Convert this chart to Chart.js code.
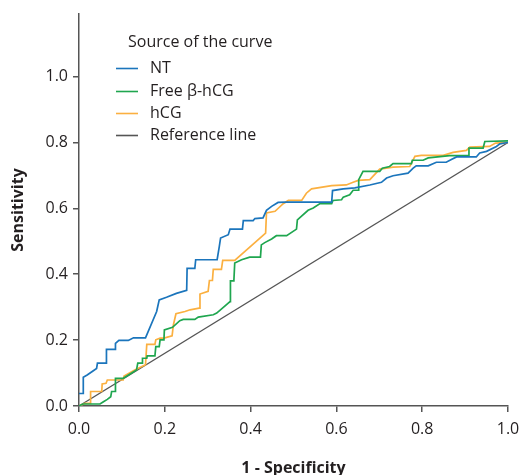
<!DOCTYPE html>
<html>
<head>
<meta charset="utf-8">
<script src="https://cdn.jsdelivr.net/npm/chart.js@4/dist/chart.umd.min.js"></script>
<style>
  html, body { margin: 0; padding: 0; background: #fff; }
  #wrap { width: 521px; height: 475px; }
</style>
</head>
<body>
<div id="wrap"><canvas id="c" width="521" height="475"></canvas></div>
<script>
// ---- Data (1 - Specificity, Sensitivity) ----
const seriesLabels = ['NT', 'Free β-hCG', 'hCG', 'Reference line'];
const legendTitle = 'Source of the curve';
const xTickValues = [0, 0.2, 0.4, 0.6, 0.8, 1.0];
const yTickValues = [0, 0.2, 0.4, 0.6, 0.8, 1.0];

const ntPoints = [
  [0,0.038],[0.010,0.038],[0.010,0.087],[0.019,0.094],[0.030,0.104],[0.041,0.114],[0.043,0.130],
  [0.063,0.130],[0.064,0.172],[0.084,0.172],[0.085,0.190],[0.093,0.199],[0.115,0.199],[0.127,0.207],
  [0.155,0.207],[0.181,0.287],[0.187,0.322],[0.204,0.330],[0.227,0.342],[0.251,0.351],[0.252,0.418],
  [0.270,0.418],[0.272,0.444],[0.322,0.444],[0.327,0.484],[0.330,0.510],[0.348,0.520],[0.352,0.537],
  [0.381,0.537],[0.383,0.563],[0.406,0.563],[0.410,0.569],[0.429,0.571],[0.437,0.594],[0.449,0.606],
  [0.464,0.618],[0.484,0.619],[0.589,0.619],[0.591,0.654],[0.616,0.659],[0.643,0.662],[0.678,0.671],
  [0.705,0.679],[0.717,0.692],[0.732,0.699],[0.767,0.707],[0.779,0.722],[0.786,0.729],[0.814,0.729],
  [0.833,0.740],[0.856,0.740],[0.868,0.748],[0.880,0.756],[0.926,0.756],[0.934,0.768],[0.950,0.773],
  [0.973,0.788],[0.981,0.796],[1.0,0.800]
];
const freeHcgPoints = [
  [0,0],[0.009,0.006],[0.049,0.006],[0.057,0.013],[0.066,0.020],[0.074,0.028],[0.076,0.044],[0.084,0.044],
  [0.085,0.084],[0.103,0.084],[0.119,0.097],[0.134,0.109],[0.137,0.130],[0.148,0.130],[0.148,0.145],
  [0.158,0.145],[0.159,0.152],[0.177,0.152],[0.179,0.180],[0.187,0.180],[0.189,0.201],[0.198,0.201],
  [0.199,0.231],[0.218,0.239],[0.235,0.259],[0.243,0.263],[0.270,0.263],[0.278,0.270],[0.313,0.277],
  [0.321,0.282],[0.352,0.317],[0.353,0.380],[0.361,0.380],[0.363,0.434],[0.379,0.444],[0.398,0.452],
  [0.423,0.452],[0.425,0.489],[0.433,0.496],[0.449,0.507],[0.460,0.517],[0.484,0.517],[0.507,0.537],
  [0.509,0.565],[0.534,0.594],[0.546,0.601],[0.561,0.614],[0.589,0.614],[0.592,0.624],[0.612,0.626],
  [0.616,0.634],[0.631,0.641],[0.639,0.655],[0.651,0.655],[0.652,0.687],[0.662,0.712],[0.701,0.712],
  [0.707,0.722],[0.724,0.727],[0.732,0.736],[0.775,0.736],[0.777,0.746],[0.802,0.746],[0.814,0.753],
  [0.864,0.760],[0.907,0.760],[0.909,0.783],[0.942,0.783],[0.946,0.803],[1.0,0.805]
];
const hcgPoints = [
  [0,0],[0.014,0.008],[0.026,0.008],[0.027,0.044],[0.053,0.044],[0.054,0.067],[0.063,0.069],[0.066,0.079],
  [0.103,0.079],[0.105,0.091],[0.130,0.109],[0.155,0.125],[0.158,0.187],[0.177,0.187],[0.179,0.201],
  [0.189,0.206],[0.198,0.206],[0.217,0.213],[0.220,0.246],[0.226,0.280],[0.247,0.287],[0.259,0.292],
  [0.280,0.297],[0.282,0.340],[0.301,0.348],[0.304,0.381],[0.311,0.381],[0.313,0.415],[0.332,0.415],
  [0.335,0.442],[0.363,0.442],[0.435,0.525],[0.437,0.586],[0.457,0.591],[0.476,0.614],[0.488,0.624],
  [0.519,0.624],[0.530,0.646],[0.542,0.659],[0.589,0.669],[0.623,0.671],[0.639,0.679],[0.651,0.685],
  [0.678,0.687],[0.701,0.719],[0.732,0.725],[0.771,0.727],[0.783,0.758],[0.798,0.761],[0.849,0.761],
  [0.872,0.770],[0.903,0.776],[0.911,0.786],[0.957,0.788],[0.971,0.798],[1.0,0.800]
];
const referencePoints = [[0,0],[1.0,0.8]];

const seriesPoints = [ntPoints, freeHcgPoints, hcgPoints, referencePoints];
const seriesColors = ['#1b75bc', '#1fa64f', '#fbb040', '#555555'];
const seriesWidths = [1.7, 1.7, 1.7, 1.2];

const FONT = "'Open Sans', 'Noto Sans', sans-serif";

const datasets = seriesPoints.map((pts, i) => ({
  label: seriesLabels[i],
  data: pts.map(p => ({x: p[0], y: p[1]})),
  showLine: true,
  borderColor: seriesColors[i],
  backgroundColor: seriesColors[i],
  borderWidth: seriesWidths[i],
  pointRadius: 0,
  pointHoverRadius: 0,
  tension: 0,
  fill: false
}));

const legendPlugin = {
  id: 'inlineLegend',
  afterDraw(chart) {
    const ctx = chart.ctx;
    ctx.save();
    ctx.textBaseline = 'middle';
    ctx.textAlign = 'left';
    ctx.fillStyle = '#231f20';
    ctx.font = "16px " + FONT;
    ctx.fillText(legendTitle, 128, 42);
    const ys = [68, 91, 113, 135];
    chart.data.datasets.forEach((ds, i) => {
      ctx.strokeStyle = ds.borderColor;
      ctx.lineWidth = 1.6;
      ctx.beginPath();
      ctx.moveTo(116, ys[i] + 0.5);
      ctx.lineTo(138, ys[i] + 0.5);
      ctx.stroke();
      ctx.fillText(ds.label, 150, ys[i]);
    });
    ctx.restore();
  }
};

new Chart(document.getElementById('c'), {
  type: 'scatter',
  data: { datasets },
  options: {
    responsive: false,
    animation: false,
    events: [],
    layout: { padding: { top: 14, right: 13, left: 0, bottom: 0 } },
    plugins: { legend: { display: false }, tooltip: { enabled: false } },
    scales: {
      x: {
        type: 'linear', position: 'bottom', min: 0, max: 1,
        afterBuildTicks: s => { s.ticks = xTickValues.map(v => ({value: v})); },
        afterFit: s => { s.height = 69; s.paddingLeft = 0; s.paddingRight = 0; },
        grid: { display: true, drawOnChartArea: false, drawTicks: true, tickLength: 6, color: '#555', lineWidth: 1.5 },
        border: { display: true, color: '#555', width: 1.5 },
        ticks: { callback: v => Number(v).toFixed(1), font: { family: FONT, size: 16 }, color: '#231f20', padding: 8, maxRotation: 0, autoSkip: false },
        title: { display: true, text: '1 - Specificity', font: { family: FONT, size: 16, weight: 'bold', lineHeight: 0.875 }, color: '#231f20', padding: { top: 0, bottom: 0 } }
      },
      y: {
        type: 'linear', position: 'left', min: 0, max: 1.19,
        afterBuildTicks: s => { s.ticks = yTickValues.map(v => ({value: v})); },
        afterFit: s => { s.width = 79; s.paddingTop = 0; s.paddingBottom = 0; },
        grid: { display: true, drawOnChartArea: false, drawTicks: true, tickLength: 6, color: '#555', lineWidth: 1.5 },
        border: { display: true, color: '#555', width: 1.5 },
        ticks: { callback: v => Number(v).toFixed(1), font: { family: FONT, size: 16 }, color: '#231f20', padding: 5, autoSkip: false },
        title: { display: true, text: 'Sensitivity', font: { family: FONT, size: 16, weight: 'bold', lineHeight: 1 }, color: '#231f20', padding: { top: 10, bottom: 0 } }
      }
    }
  },
  plugins: [legendPlugin]
});
</script>
</body>
</html>
